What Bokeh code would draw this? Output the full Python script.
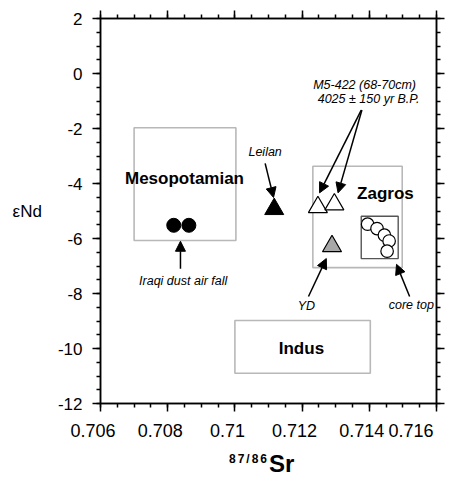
from bokeh.plotting import figure
from bokeh.models import (Range1d, LinearAxis, FixedTicker, CustomJSTickFormatter,
                          Label, Arrow, NormalHead, ColumnDataSource, Div)
from bokeh.layouts import column
from bokeh.embed import file_html
from bokeh.resources import INLINE
import numpy as np

# ---- axis ticks ----
x_ticks = [0.706, 0.708, 0.710, 0.712, 0.714, 0.716]
y_ticks = [2, 0, -2, -4, -6, -8, -10, -12]

# ---- data (87/86Sr, eNd) ----
iraqi_sr = [0.70818, 0.70863]
iraqi_nd = [-5.52, -5.52]
leilan_sr = [0.71117]
leilan_nd = [-4.93]
m5_sr = [0.71247, 0.71296]
m5_nd = [-4.86, -4.76]
yd_sr = [0.71289]
yd_nd = [-6.28]
core_sr = [0.71395, 0.71423, 0.71445, 0.71459, 0.71453]
core_nd = [-5.48, -5.64, -5.88, -6.09, -6.46]

# ---- source fields (boxes) ----
box_names = ["Mesopotamian", "Zagros", "Indus"]
box_left = [0.70700, 0.71232, 0.71000]
box_right = [0.71003, 0.71498, 0.71403]
box_top = [-1.97, -3.37, -8.98]
box_bottom = [-6.07, -7.06, -10.90]
core_box = dict(left=[0.71376], right=[0.71486], top=[-5.19], bottom=[-6.73])

FONT = "Liberation Sans"

p = figure(frame_width=336, frame_height=385,
           x_range=Range1d(0.706, 0.716), y_range=Range1d(-12, 2),
           output_backend="svg", toolbar_location=None,
           min_border_left=100, min_border_right=12,
           min_border_top=18, min_border_bottom=37,
           background_fill_color="white", border_fill_color="white")
p.xgrid.visible = False
p.ygrid.visible = False
p.outline_line_color = "black"
p.outline_line_width = 1.5

x_minor = list(np.round(np.arange(0.706, 0.71601, 0.0005), 5))
y_minor = list(np.arange(-12, 2.01, 0.5))
xt = FixedTicker(ticks=x_ticks, minor_ticks=x_minor)
yt = FixedTicker(ticks=y_ticks, minor_ticks=y_minor)

# labels in the reference sit slightly left of their ticks
xfmt = CustomJSTickFormatter(code="return String(Math.round(tick*1000)/1000) + '\\u00a0\\u00a0\\u00a0';")
yfmt = CustomJSTickFormatter(code="return tick.toFixed(0);")
blank = CustomJSTickFormatter(code="return '';")


def style_axis(ax, ticker, fmt, size="16px", standoff=10):
    ax.ticker = ticker
    ax.formatter = fmt
    ax.axis_line_width = 1.5
    ax.axis_line_color = "black"
    ax.major_tick_line_width = 1.5
    ax.minor_tick_line_width = 1.5
    ax.major_tick_out = 8
    ax.major_tick_in = 0
    ax.minor_tick_out = 4
    ax.minor_tick_in = 0
    ax.major_label_text_font = FONT
    ax.major_label_text_font_size = size
    ax.major_label_text_color = "black"
    ax.major_label_standoff = standoff


style_axis(p.xaxis[0], xt, xfmt, "18px", 9)
style_axis(p.yaxis[0], yt, yfmt, "17px", 10)

yax = p.yaxis[0]
yax.axis_label = "\u03b5Nd"
yax.axis_label_orientation = "horizontal"
yax.axis_label_standoff = 13
yax.axis_label_text_font = FONT
yax.axis_label_text_font_style = "normal"
yax.axis_label_text_font_size = "17px"
yax.axis_label_text_color = "black"

top_ax = LinearAxis()
style_axis(top_ax, xt, blank, "1px", 0)
p.add_layout(top_ax, "above")
right_ax = LinearAxis()
style_axis(right_ax, yt, blank, "1px", 0)
p.add_layout(right_ax, "right")

# boxes
p.quad(left=box_left, right=box_right, top=box_top, bottom=box_bottom,
       fill_color=None, line_color="#b8b8b8", line_width=1.6)
p.quad(source=ColumnDataSource(core_box), left="left", right="right", top="top",
       bottom="bottom", fill_color=None, line_color="#555555", line_width=1.4)

# points
p.scatter(iraqi_sr, iraqi_nd, marker="circle", size=14, fill_color="black", line_color="black")
p.scatter(leilan_sr, leilan_nd, marker="triangle", size=19, fill_color="black", line_color="black")
p.scatter(m5_sr, m5_nd, marker="triangle", size=19, fill_color="white", line_color="black", line_width=1.2)
p.scatter(yd_sr, yd_nd, marker="triangle", size=19, fill_color="#a8a8a8", line_color="black", line_width=1.2)
p.scatter(core_sr, core_nd, marker="circle", size=12.5, fill_color="white", line_color="black", line_width=1.2)

# region labels
for txt, x, y in [("Mesopotamian", 0.7085, -3.8), ("Zagros", 0.71448, -4.35), ("Indus", 0.71198, -10.0)]:
    p.add_layout(Label(x=x, y=y, text=txt, text_font=FONT, text_font_style="bold",
                       text_font_size="17px", text_align="center", text_baseline="middle",
                       text_color="black"))

# italic annotations
for txt, x, y in [("Leilan", 0.7109, -2.85),
                  ("M5-422 (68-70cm)", 0.71386, -0.42),
                  ("4025 \u00b1 150 yr B.P.", 0.71398, -0.93),
                  ("Iraqi dust air fall", 0.70846, -7.55),
                  ("YD", 0.71213, -8.46),
                  ("core top", 0.71525, -8.43)]:
    p.add_layout(Label(x=x, y=y, text=txt, text_font=FONT, text_font_style="italic",
                       text_font_size="12.5px", text_align="center", text_baseline="middle",
                       text_color="black"))

# arrows
for xs, ys, xe, ye in [(0.71090, -3.27, 0.71115, -4.51),
                       (0.71376, -1.33, 0.71252, -4.34),
                       (0.71378, -1.33, 0.71307, -4.34),
                       (0.70838, -7.10, 0.70838, -6.10),
                       (0.71219, -8.11, 0.71272, -6.73),
                       (0.71520, -8.11, 0.71481, -6.94)]:
    p.add_layout(Arrow(end=NormalHead(size=10, fill_color="black", line_color="black", line_width=1),
                       x_start=xs, y_start=ys, x_end=xe, y_end=ye,
                       line_width=1.5, line_color="black"))

# x-axis title with superscript
xtitle = Div(
    text=('<div style="font-family:\'Liberation Sans\',Arial,sans-serif;font-weight:bold;'
          'font-size:24px;line-height:30px;white-space:nowrap;color:black;">'
          '<sup style="font-size:12px;letter-spacing:2px;">87/86</sup>Sr</div>'),
    width=120, height=34, margin=(1, 0, 0, 229))

layout = column(p, xtitle, spacing=0)

open("out.html", "w").write(file_html(layout, INLINE))
